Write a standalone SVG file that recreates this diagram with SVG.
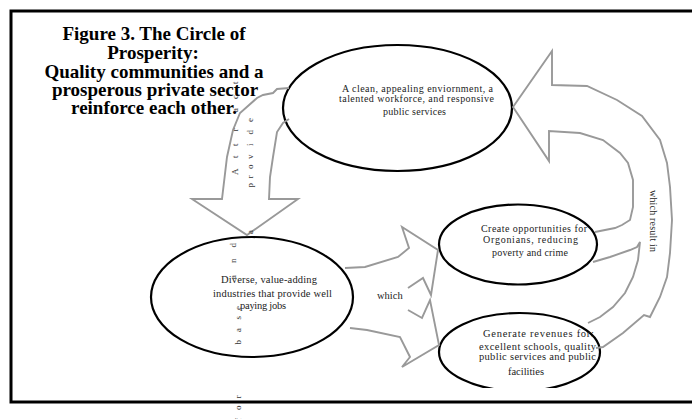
<svg xmlns="http://www.w3.org/2000/svg" width="692" height="419" viewBox="0 0 692 419">
<style>
.frame{fill:none;stroke:#000;stroke-width:3}
.node{fill:#fff;stroke:#000;stroke-width:2.2}
.arrow{fill:none;stroke:#999;stroke-width:1.9;stroke-linejoin:miter}
.title{font-family:"Liberation Serif","Times New Roman",serif;font-weight:bold;font-size:19px;fill:#000;text-anchor:middle}
.t{font-family:"Liberation Serif","Times New Roman",serif;font-size:10px;fill:#222}
.t2{font-family:"Liberation Serif","Times New Roman",serif;font-size:10.5px;fill:#222}
.v{font-family:"Liberation Serif","Times New Roman",serif;font-size:9px;fill:#333}
</style>
<defs>
<clipPath id="cutBottom"><rect x="0" y="0" width="692" height="388"/></clipPath>
</defs>
<rect width="692" height="419" fill="#fff"/>
<rect class="frame" x="11" y="11" width="700" height="391"/>

<g id="title">
<text class="title" x="154" y="40">Figure 3. The Circle of</text>
<text class="title" x="153" y="59">Prosperity:</text>
<text class="title" x="154" y="78">Quality communities and a</text>
<text class="title" x="155" y="96">prosperous private sector</text>
<text class="title" x="154" y="114">reinforce each other.</text>
</g>

<g id="node-environment">
<ellipse class="node" cx="397.5" cy="108" rx="114.5" ry="63"/>
<text class="t" x="342" y="92" textLength="151" lengthAdjust="spacing">A clean, appealing enviornment, a</text>
<text class="t" x="339" y="102" textLength="155" lengthAdjust="spacing">talented workforce, and responsive</text>
<text class="t" x="383" y="115" textLength="63" lengthAdjust="spacing">public services</text>
</g>

<g id="node-industries">
<ellipse class="node" cx="252" cy="297" rx="101" ry="60"/>
<text class="t2" x="221" y="283" textLength="96" lengthAdjust="spacing">Diverse, value-adding</text>
<text class="t2" x="213" y="297" textLength="119" lengthAdjust="spacing">industries that provide well</text>
<text class="t2" x="240" y="309" textLength="46" lengthAdjust="spacing">paying jobs</text>
</g>

<g id="node-opportunities">
<ellipse class="node" cx="518" cy="244.5" rx="79" ry="40"/>
<text class="t" x="481" y="232" textLength="106" lengthAdjust="spacing">Create opportunities for</text>
<text class="t" x="483" y="243" textLength="95" lengthAdjust="spacing">Orgonians, reducing</text>
<text class="t" x="492" y="256" textLength="76" lengthAdjust="spacing">poverty and crime</text>
</g>

<g id="node-revenues">
<ellipse class="node" cx="519.5" cy="352" rx="80.5" ry="39" clip-path="url(#cutBottom)"/>
<text class="t2" x="483" y="337" textLength="111" lengthAdjust="spacing">Generate revenues for:</text>
<text class="t2" x="479" y="350" textLength="117" lengthAdjust="spacing">excellent schools, quality</text>
<text class="t2" x="479" y="360" textLength="117" lengthAdjust="spacing">public services and public</text>
<text class="t2" x="508" y="375" textLength="36" lengthAdjust="spacing">facilities</text>
</g>

<g id="connectors">
<path class="arrow" d="M289,88 L277,89 L273,93 L263,95 L257,98 L240,113 L233,130 L227,157 L222,199 L192,199 L247,235 L298,199 L269,199 L270,177 L273,157 L277,132 L283,123 L289,119"/>
<path class="arrow" d="M596,348 L603,347 L623,333 L644,315 L650,317 L660,297 L667,277 L670,253 L672,220 L670,187 L667,163 L660,140 L642,116 L617,100 L587,86 L552,85 L552,51 L513,107 L549,161 L549,131 L580,133 L603,140 L620,153 L628,163 L633,180 L633,207 L630,220 L622,225 L615,228 L595,232"/>
<path class="arrow" d="M593,262 L610,257 L630,250 L637,247 L640,242 L638,260 L633,277 L625,293 L613,307 L600,317 L588,323"/>
<path class="arrow" d="M345,268 L365,267 L398,257 L409,248 L402,227 L438,250 L431,295 L423,278 L408,288"/>
<path class="arrow" d="M408,310 L422,318 L430,300 L439,345 L402,367 L410,357 L400,337 L367,330 L350,328"/>
<text class="t2" x="377" y="299">which</text>
<text class="t" transform="translate(650,0) rotate(90)" x="190" y="0" textLength="62" lengthAdjust="spacing">which result in</text>
<text class="v" transform="translate(238,0) rotate(-90)" x="-175 -158 -146 -131.5 -112 -99 -84" y="0">Attract</text>
<text class="v" transform="translate(253,0) rotate(-90)" x="-234 -187.5 -178.5 -169 -159 -146 -134.5 -122" y="0">aprovide</text>
<text class="v" transform="translate(236,0) rotate(-90)" x="-279 -263 -247.5" y="0">and</text>
<text class="v" transform="translate(241,0) rotate(-90)" x="-421 -410 -398.5 -344.5 -332 -319.5 -310" y="0">forbase</text>
</g>
</svg>
